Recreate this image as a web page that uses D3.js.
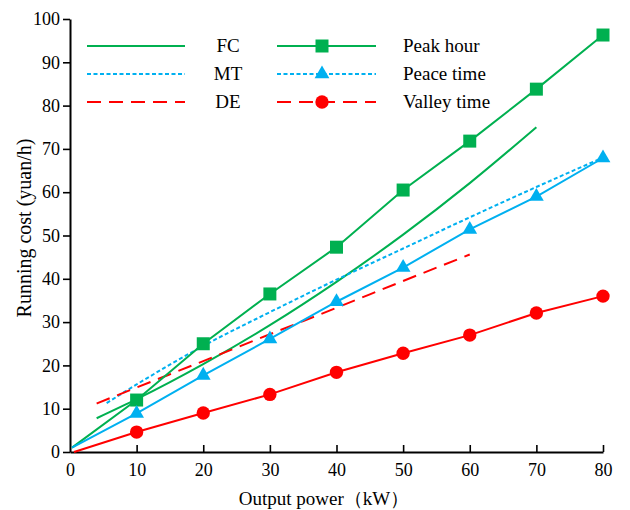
<!DOCTYPE html>
<html><head><meta charset="utf-8">
<script src="https://cdn.jsdelivr.net/npm/d3@7"></script>
<style>body{margin:0;background:#fff}svg{display:block}text{font-family:"Liberation Serif","Times New Roman",serif;fill:#000}</style>
</head><body><svg id="c" width="630" height="510"></svg>
<script>
const xTicks = [0,10,20,30,40,50,60,70,80];
const yTicks = [0,10,20,30,40,50,60,70,80,90,100];
// Peak hour (green squares)
const peakX = [0.3,10,20,30,40,50,60,70,80];
const peakY = [1,12,25,36.5,47.3,60.5,71.8,83.8,96.3];
// Peace time (blue triangles)
const peaceX = [0.3,10,20,30,40,50,60,70,80];
const peaceY = [1,8.9,17.7,26.1,34.7,42.6,51.4,59,67.9];
// Valley time (red circles)
const valleyX = [0.6,10,20,30,40,50,60,70,80];
const valleyY = [0,4.6,9.0,13.3,18.4,22.8,27,32.1,36];
// FC (solid green)
const fcX = [4,10,20,30,40,50,60,70];
const fcY = [7.8,12.2,20.3,29.3,39.3,50.2,62.1,75];
// MT (dotted blue)
const mtX = [5.5,10,20,30,40,50,60,70,80];
const mtY = [11.3,15.6,24.5,32.3,39.8,47,54.2,61.2,68];
// DE (dashed red)
const deX = [4,10,20,30,40,50,60];
const deY = [11.2,14.9,21.0,27.2,33.3,39.5,45.6];

const green="#00B050", blue="#00B0F0", red="#FF0000";
const svg=d3.select("#c");
const x=d3.scaleLinear().domain([0,80]).range([70,603]);
const y=d3.scaleLinear().domain([0,100]).range([452,19]);

const line=d3.line().x(d=>x(d[0])).y(d=>y(d[1]));
const zip=(a,b)=>a.map((v,i)=>[v,b[i]]);

// axes
const xa=svg.append("g").attr("transform","translate(0,452)")
  .call(d3.axisBottom(x).tickValues(xTicks).tickSize(-7).tickPadding(11).tickSizeOuter(0));
const ya=svg.append("g").attr("transform","translate(70,0)")
  .call(d3.axisLeft(y).tickValues(yTicks).tickSize(7).tickPadding(3).tickSizeOuter(0));
[xa,ya].forEach(g=>{
  g.select(".domain").attr("stroke","#000").attr("stroke-width",2);
  g.selectAll(".tick line").attr("stroke","#000").attr("stroke-width",1.6);
  g.selectAll(".tick text").style("font-family","Liberation Serif").style("font-size","18px").attr("fill","#000");
});
xa.selectAll(".tick").filter(d=>d===0).select("line").remove();

svg.append("text").attr("x",324).attr("y",505).attr("text-anchor","middle")
  .style("font-size","19px").text("Output power（kW）");
svg.append("text").attr("transform","translate(31,228) rotate(-90)").attr("text-anchor","middle")
  .style("font-size","20px").text("Running cost (yuan/h)");

// curves
const curve=d3.line().x(d=>x(d[0])).y(d=>y(d[1])).curve(d3.curveMonotoneX);
svg.append("path").attr("d",curve(zip(fcX,fcY))).attr("fill","none").attr("stroke",green).attr("stroke-width",2);
svg.append("path").attr("d",curve(zip(mtX,mtY))).attr("fill","none").attr("stroke",blue).attr("stroke-width",2).attr("stroke-dasharray","4,2.5");
svg.append("path").attr("d",curve(zip(deX,deY))).attr("fill","none").attr("stroke",red).attr("stroke-width",2).attr("stroke-dasharray","14,8");

svg.append("path").attr("d",line(zip(peakX,peakY))).attr("fill","none").attr("stroke",green).attr("stroke-width",2);
svg.append("path").attr("d",line(zip(peaceX,peaceY))).attr("fill","none").attr("stroke",blue).attr("stroke-width",2);
svg.append("path").attr("d",line(zip(valleyX,valleyY))).attr("fill","none").attr("stroke",red).attr("stroke-width",2);

const sq=d3.symbol().type(d3.symbolSquare).size(169);
const tri=d3.symbol().type(d3.symbolTriangle).size(95);
const cir=d3.symbol().type(d3.symbolCircle).size(140);
const mk=(X,Y,sym,col)=>svg.append("g").selectAll("path").data(zip(X,Y).slice(1)).join("path")
  .attr("d",sym).attr("fill",col).attr("transform",d=>`translate(${x(d[0])},${y(d[1])})`);
mk(peakX,peakY,sq,green);
mk(peaceX,peaceY,tri,blue);
mk(valleyX,valleyY,cir,red);

// legend
const rows=[
 {n:"FC",c:green,dash:null,n2:"Peak hour",sym:sq},
 {n:"MT",c:blue,dash:"4,2.5",n2:"Peace time",sym:tri},
 {n:"DE",c:red,dash:"14,8",n2:"Valley time",sym:cir}];
const ry=[46,74,102];
rows.forEach((r,i)=>{
  const g=svg.append("g").attr("transform",`translate(0,${ry[i]})`);
  g.append("line").attr("x1",87).attr("x2",185).attr("stroke",r.c).attr("stroke-width",2).attr("stroke-dasharray",r.dash);
  g.append("text").attr("x",228).attr("y",6).attr("text-anchor","middle").style("font-size","19px").text(r.n);
  g.append("line").attr("x1",277).attr("x2",376).attr("stroke",r.c).attr("stroke-width",2).attr("stroke-dasharray",r.dash);
  g.append("path").attr("d",r.sym).attr("fill",r.c).attr("transform","translate(322,0)");
  g.append("text").attr("x",403).attr("y",6).style("font-size","19px").text(r.n2);
});
</script></body></html>
